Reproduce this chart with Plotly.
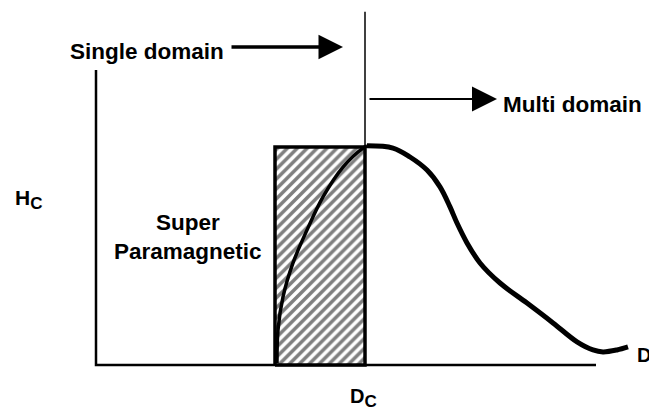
import plotly.graph_objects as go

# ---- data (arbitrary units: D = particle diameter, Hc = coercivity) ----
D_rise = [3.62, 3.64, 3.74, 3.94, 4.22, 4.54, 4.94, 5.34, 5.42]
Hc_rise = [0.009, 0.161, 0.312, 0.468, 0.619, 0.771, 0.908, 0.995, 1.005]

D_fall = [5.42, 5.94, 6.28, 6.62, 6.88, 7.08, 7.22, 7.42, 7.68, 8.08, 8.62,
          9.14, 9.62, 9.94, 10.14, 10.42, 10.64]
Hc_fall = [1.005, 0.995, 0.954, 0.894, 0.817, 0.725, 0.651, 0.560, 0.468,
           0.376, 0.284, 0.193, 0.106, 0.069, 0.060, 0.069, 0.083]

Dc = 5.38            # critical diameter
D_sp = 3.58          # superparamagnetic limit
Hc_box_top = 1.0     # height of the hatched region
D_axis_max = 10.0
Hc_axis_max = 1.353
Hc_dc_line_top = 1.62

FONT = "Liberation Sans, Arial, sans-serif"

fig = go.Figure()

# axes
fig.add_trace(go.Scatter(x=[0, 0, D_axis_max], y=[Hc_axis_max, 0, 0], mode="lines",
                         line=dict(color="black", width=2.5), hoverinfo="skip"))
# hatched superparamagnetic region
fig.add_trace(go.Scatter(x=[D_sp, Dc, Dc, D_sp, D_sp],
                         y=[0, 0, Hc_box_top, Hc_box_top, 0],
                         mode="lines", fill="toself", fillcolor="white",
                         fillpattern=dict(shape="/", fgcolor="black", bgcolor="white",
                                          size=7, solidity=0.5),
                         line=dict(color="black", width=3.5), hoverinfo="skip"))
# critical diameter line
fig.add_trace(go.Scatter(x=[Dc, Dc], y=[0, Hc_dc_line_top], mode="lines",
                         line=dict(color="black", width=1.5), hoverinfo="skip"))
# curve
fig.add_trace(go.Scatter(x=D_rise, y=Hc_rise, mode="lines", line_shape="spline",
                         line=dict(color="black", width=3.5), hoverinfo="skip"))
fig.add_trace(go.Scatter(x=D_fall, y=Hc_fall, mode="lines", line_shape="spline",
                         line=dict(color="black", width=5), hoverinfo="skip"))

# arrows
fig.add_annotation(x=4.94, y=1.459, ax=2.68, ay=1.459, xref="x", yref="y",
                   axref="x", ayref="y", showarrow=True, arrowhead=2,
                   arrowwidth=3.5, arrowsize=1.4, arrowcolor="black", text="")
fig.add_annotation(x=8.02, y=1.22, ax=5.44, ay=1.22, xref="x", yref="y",
                   axref="x", ayref="y", showarrow=True, arrowhead=2,
                   arrowwidth=2, arrowsize=2.5, arrowcolor="black", text="")

def label(text, x, y, size, xanchor="left"):
    fig.add_annotation(x=x, y=y, xref="x", yref="y", text=text, showarrow=False,
                       xanchor=xanchor, yanchor="middle",
                       font=dict(family=FONT, size=size, color="black", weight="bold"))

label("Single domain", -0.56, 1.436, 22.5)
label("Multi domain", 8.1, 1.197, 22.5)
label("Super<br>Paramagnetic", 1.83, 0.587, 22.5, xanchor="center")
label("H<sub><span style='font-size:17px'>C</span></sub>", -1.66, 0.76, 21)
label("D<sub><span style='font-size:17px'>C</span></sub>", Dc - 0.35, -0.15, 20)
label("D", 10.78, 0.046, 20)

fig.update_layout(
    width=649, height=411,
    margin=dict(l=0, r=0, t=0, b=0),
    paper_bgcolor="white", plot_bgcolor="white",
    showlegend=False,
    xaxis=dict(range=[-1.92, 11.06], visible=False, fixedrange=True),
    yaxis=dict(range=[-0.211, 1.674], visible=False, fixedrange=True),
)

# remove the page's default body margin so the 649x411 figure fills the window exactly
fig.write_html("out.html", config={"displayModeBar": False},
               post_script="document.body.style.margin='0';"
                           "document.body.style.overflow='hidden';")
